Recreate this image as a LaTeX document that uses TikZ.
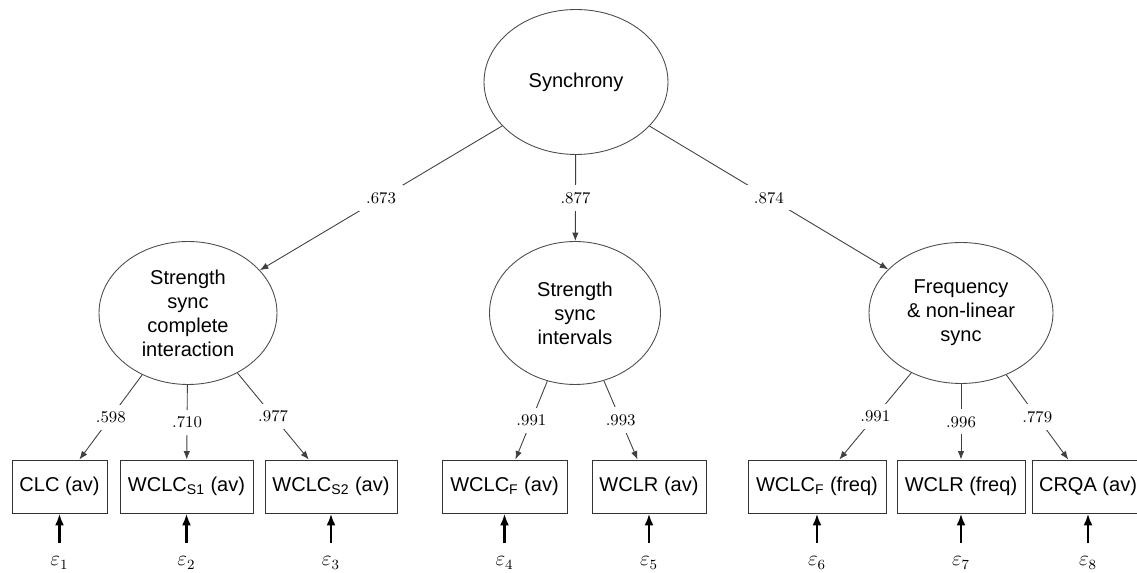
\documentclass[tikz,border=0pt]{standalone}
\usepackage{fontspec}
\newfontfamily\arialfont{Liberation Sans}
\usetikzlibrary{shapes.geometric,arrows.meta}

\begin{document}
\begin{tikzpicture}[x=0.02cm,y=-0.02cm,
    latent/.style={ellipse,draw=black!70,line width=0.5pt,inner sep=0pt,align=center,
      font=\arialfont\fontsize{11.4}{13.7}\selectfont},
    manifest/.style={rectangle,draw=black!80,line width=0.5pt,minimum height=1.06cm,
      inner xsep=0.14cm,font=\arialfont\fontsize{11.4}{13.7}\selectfont},
    load/.style={draw=black!75,line width=0.5pt,-{Latex[length=1.7mm,width=1.3mm]}},
    coef/.style={fill=white,inner sep=4pt,font=\fontsize{9.3}{11}\selectfont},
    eps/.style={inner sep=0pt,font=\fontsize{12}{14}\selectfont},
    err/.style={line width=1.6pt,-{Latex[length=2.4mm,width=1.8mm]},shorten <=0.27cm}]
    \useasboundingbox (0,0) rectangle (1137,573);
    % latent factors
    \node[latent,minimum width=3.68cm,minimum height=2.9cm] (sync) at (576,82) {Synchrony};
    \node[latent,minimum width=3.56cm,minimum height=2.86cm] (scomp) at (188,313) {Strength\\sync\\complete\\interaction};
    \node[latent,minimum width=3.42cm,minimum height=2.86cm] (sint) at (575,313) {Strength\\sync\\intervals};
    \node[latent,minimum width=3.68cm,minimum height=2.82cm] (freq) at (961,313) {Frequency\\\& non-linear\\sync};
    % observed measures
    \node[manifest,minimum width=1.9cm] (o1) at (59.5,486.5) {CLC (av)};
    \node[manifest,minimum width=2.66cm] (o2) at (186.5,486.5) {WCLC\textsubscript{S1} (av)};
    \node[manifest,minimum width=2.64cm] (o3) at (331,486.5) {WCLC\textsubscript{S2} (av)};
    \node[manifest,minimum width=2.5cm] (o4) at (504.5,486.5) {WCLC\textsubscript{F} (av)};
    \node[manifest,minimum width=2.28cm] (o5) at (649,486.5) {WCLR (av)};
    \node[manifest,minimum width=2.76cm] (o6) at (817,486.5) {WCLC\textsubscript{F} (freq)};
    \node[manifest,minimum width=2.56cm] (o7) at (961,486.5) {WCLR (freq)};
    \node[manifest,minimum width=2.24cm] (o8) at (1088,486.5) {CRQA (av)};
    % loadings
    \draw[load] (sync) -- node[coef] {.673} (scomp);
    \draw[load] (sync) -- node[coef] {.877} (sint);
    \draw[load] (sync) -- node[coef] {.874} (freq);
    \draw[load] (scomp) -- node[coef] {.598} (o1);
    \draw[load] (scomp) -- node[coef] {.710} (o2);
    \draw[load] (scomp) -- node[coef] {.977} (o3);
    \draw[load] (sint) -- node[coef] {.991} (o4);
    \draw[load] (sint) -- node[coef] {.993} (o5);
    \draw[load] (freq) -- node[coef] {.991} (o6);
    \draw[load] (freq) -- node[coef] {.996} (o7);
    \draw[load] (freq) -- node[coef] {.779} (o8);
    % error terms
    \foreach \i/\x in {1/59.5,2/186.5,3/331,4/504.5,5/649,6/817,7/961,8/1088}{
      \node[eps] (e\i) at (\x,563) {$\varepsilon_{\i}$};
      \draw[err] (e\i) -- (o\i);
    }
\end{tikzpicture}
\end{document}
